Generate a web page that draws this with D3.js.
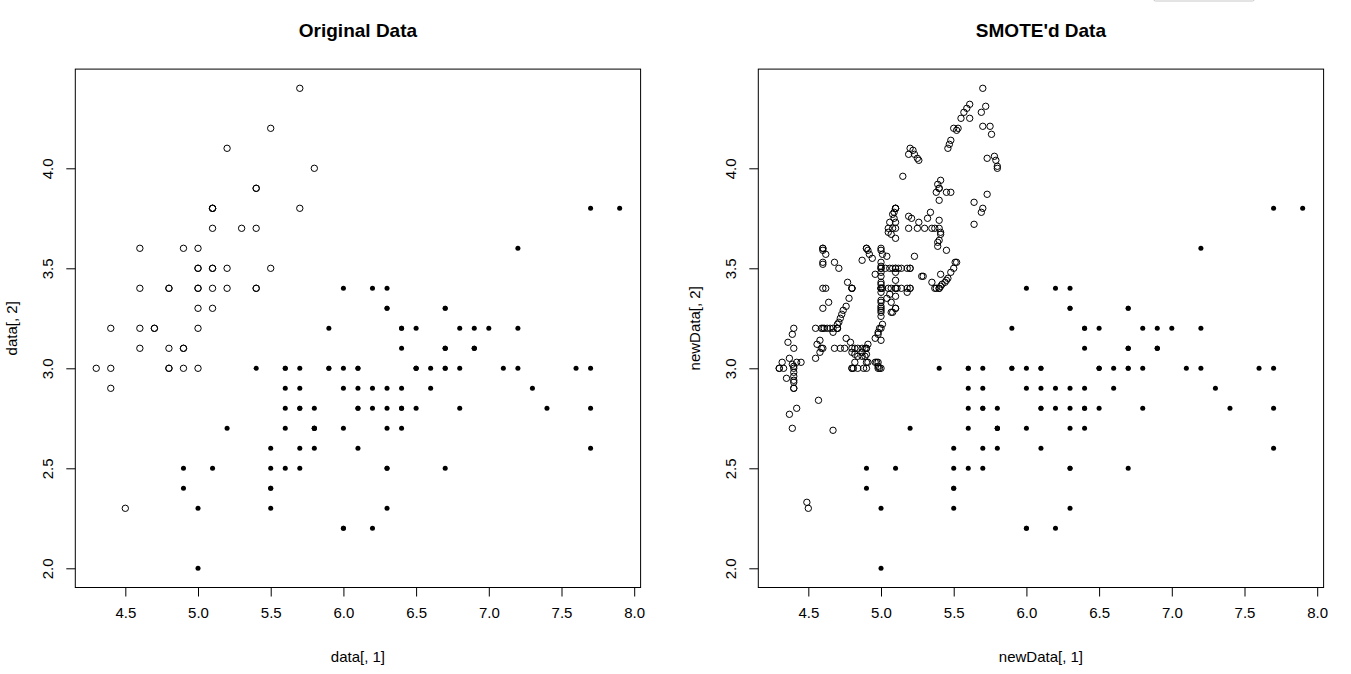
<!DOCTYPE html>
<html>
<head>
<meta charset="utf-8">
<script src="https://cdn.jsdelivr.net/npm/d3@7"></script>
<style>
  body { margin: 0; background: #ffffff; }
  text { font-family: Arial, "Liberation Sans", sans-serif; fill: #000000; }
</style>
</head>
<body>
<svg id="chart" width="1351" height="674"></svg>
<script>
// iris Sepal.Length / Sepal.Width, minority class (setosa)
const setosaX = [5.1,4.9,4.7,4.6,5.0,5.4,4.6,5.0,4.4,4.9,5.4,4.8,4.8,4.3,5.8,5.7,5.4,5.1,5.7,5.1,
  5.4,5.1,4.6,5.1,4.8,5.0,5.0,5.2,5.2,4.7,4.8,5.4,5.2,5.5,4.9,5.0,5.5,4.9,4.4,5.1,
  5.0,4.5,4.4,5.0,5.1,4.8,5.1,4.6,5.3,5.0];
const setosaY = [3.5,3.0,3.2,3.1,3.6,3.9,3.4,3.4,2.9,3.1,3.7,3.4,3.0,3.0,4.0,4.4,3.9,3.5,3.8,3.8,
  3.4,3.7,3.6,3.3,3.4,3.0,3.4,3.5,3.4,3.2,3.1,3.4,4.1,4.2,3.1,3.2,3.5,3.6,3.0,3.4,
  3.5,2.3,3.2,3.5,3.8,3.0,3.8,3.2,3.7,3.3];

// majority class (versicolor + virginica)
const otherX = [7.0,6.4,6.9,5.5,6.5,5.7,6.3,4.9,6.6,5.2,5.0,5.9,6.0,6.1,5.6,6.7,5.6,5.8,6.2,5.6,
  5.9,6.1,6.3,6.1,6.4,6.6,6.8,6.7,6.0,5.7,5.5,5.5,5.8,6.0,5.4,6.0,6.7,6.3,5.6,5.5,
  5.5,6.1,5.8,5.0,5.6,5.7,5.7,6.2,5.1,5.7,
  6.3,5.8,7.1,6.3,6.5,7.6,4.9,7.3,6.7,7.2,6.5,6.4,6.8,5.7,5.8,6.4,6.5,7.7,7.7,6.0,
  6.9,5.6,7.7,6.3,6.7,7.2,6.2,6.1,6.4,7.2,7.4,7.9,6.4,6.3,6.1,7.7,6.3,6.4,6.0,6.9,
  6.7,6.9,5.8,6.8,6.7,6.7,6.3,6.5,6.2,5.9];
const otherY = [3.2,3.2,3.1,2.3,2.8,2.8,3.3,2.4,2.9,2.7,2.0,3.0,2.2,2.9,2.9,3.1,3.0,2.7,2.2,2.5,
  3.2,2.8,2.5,2.8,2.9,3.0,2.8,3.0,2.9,2.6,2.4,2.4,2.7,2.7,3.0,3.4,3.1,2.3,3.0,2.5,
  2.6,3.0,2.6,2.3,2.7,3.0,2.9,2.9,2.5,2.8,
  3.3,2.7,3.0,2.9,3.0,3.0,2.5,2.9,2.5,3.6,3.2,2.7,3.0,2.5,2.8,3.2,3.0,3.8,2.6,2.2,
  3.2,2.8,2.8,2.7,3.3,3.2,2.8,3.0,2.8,3.0,2.8,3.8,2.8,2.8,2.6,3.0,3.4,3.1,3.0,3.1,
  3.1,3.1,2.7,3.2,3.3,3.0,2.5,3.0,3.4,3.0];

// synthetic minority points
const smotePoints = [
  [5.61,4.32],[5.59,4.30],[5.57,4.28],[5.55,4.25],[5.61,4.25],[5.72,4.31],[5.69,4.28],[5.70,4.21],
  [5.75,4.21],[5.76,4.17],[5.52,4.19],[5.53,4.20],[5.48,4.14],[5.47,4.12],[5.46,4.10],[5.22,4.09],
  [5.19,4.07],[5.23,4.07],[5.25,4.05],[5.26,4.04],[5.73,4.05],[5.78,4.06],[5.79,4.04],[5.80,4.01],
  [5.15,3.96],[5.41,3.94],[5.39,3.92],[5.38,3.88],[5.45,3.88],[5.48,3.88],[5.40,3.84],[5.73,3.87],
  [5.64,3.83],[5.69,3.78],[5.19,3.76],[5.21,3.75],[5.26,3.73],[5.32,3.75],[5.34,3.78],[5.40,3.74],
  [5.64,3.72],[5.09,3.78],[5.08,3.77],[5.09,3.75],[5.06,3.73],[5.10,3.73],
  [5.05,3.70],[5.08,3.70],[5.19,3.70],[5.25,3.70],[5.35,3.70],[5.37,3.70],
  [5.05,3.68],[5.07,3.67],[5.10,3.65],[5.41,3.68],[5.41,3.67],[5.40,3.64],[5.39,3.63],[5.39,3.61],
  [5.45,3.59],[5.00,3.59],[5.01,3.57],[5.04,3.56],[5.23,3.56],
  [5.00,3.53],[5.00,3.51],[5.00,3.48],[5.00,3.46],[5.00,3.43],[5.00,3.42],[5.00,3.40],[5.00,3.38],
  [5.03,3.50],[5.06,3.50],[5.08,3.50],[5.12,3.50],[5.14,3.50],[5.18,3.50],[5.20,3.50],
  [5.10,3.48],[5.10,3.44],
  [5.01,3.40],[5.05,3.40],[5.07,3.40],[5.10,3.40],[5.11,3.40],[5.14,3.40],[5.18,3.40],[5.20,3.40],
  [5.18,3.38],[5.06,3.37],[5.04,3.35],[5.10,3.36],[5.07,3.33],
  [5.00,3.34],[5.00,3.33],[5.00,3.31],[5.00,3.29],[5.00,3.28],[5.00,3.26],
  [5.10,3.30],[5.08,3.28],[5.07,3.28],
  [5.29,3.46],[5.28,3.46],[5.41,3.47],[5.46,3.45],[5.45,3.44],[5.44,3.43],[5.42,3.42],[5.41,3.41],
  [5.38,3.40],[5.37,3.40],[5.51,3.53],[5.52,3.53],[5.48,3.48],[5.35,3.43],
  [5.01,3.22],[4.99,3.20],[4.98,3.18],[4.98,3.17],[5.00,3.14],
  [4.97,3.03],[4.98,3.01],[4.99,3.00],
  [4.60,3.60],[4.60,3.59],[4.62,3.57],[4.60,3.53],[4.60,3.52],[4.68,3.53],[4.71,3.50],
  [4.90,3.60],[4.91,3.59],[4.92,3.57],[4.94,3.55],[4.87,3.54],[4.96,3.47],
  [4.62,3.40],[4.77,3.43],[4.80,3.40],[4.64,3.33],[4.60,3.30],
  [4.78,3.35],[4.76,3.31],[4.74,3.29],[4.73,3.27],[4.72,3.25],[4.71,3.23],[4.70,3.22],
  [4.55,3.20],[4.59,3.20],[4.61,3.20],[4.63,3.20],[4.65,3.20],[4.67,3.20],[4.70,3.20],[4.67,3.18],
  [4.39,3.17],[4.36,3.13],[4.40,3.10],
  [4.58,3.14],[4.56,3.12],[4.59,3.10],[4.58,3.08],[4.55,3.05],
  [4.68,3.10],[4.72,3.10],[4.75,3.10],
  [4.76,3.15],[4.79,3.13],[4.82,3.10],[4.84,3.10],[4.87,3.10],[4.89,3.10],[4.91,3.12],[4.96,3.15],
  [4.80,3.08],[4.82,3.07],[4.84,3.06],[4.87,3.08],[4.89,3.06],[4.90,3.07],[4.90,3.03],[4.82,3.03],
  [4.81,3.00],[4.84,3.00],[4.88,3.00],[4.91,3.03],[4.96,3.03],[4.87,3.06],[4.98,3.03],[4.98,3.00],
  [4.32,3.03],[4.30,3.00],[4.33,3.00],[4.40,3.01],[4.40,2.98],[4.37,3.05],[4.42,3.03],[4.45,3.03],
  [4.39,3.02],
  [4.35,2.95],[4.40,2.96],[4.40,2.94],[4.40,2.93],[4.40,2.90],
  [4.57,2.84],[4.42,2.80],[4.37,2.77],[4.39,2.70],[4.67,2.69],[4.49,2.33]
];

const xTicks = [4.5, 5.0, 5.5, 6.0, 6.5, 7.0, 7.5, 8.0];
const yTicks = [2.0, 2.5, 3.0, 3.5, 4.0];

const panels = [
  { title: "Original Data", xLabel: "data[, 1]", yLabel: "data[, 2]", left: 75.3, synthetic: false },
  { title: "SMOTE'd Data", xLabel: "newData[, 1]", yLabel: "newData[, 2]", left: 758.3, synthetic: true },
];

const PLOT_WIDTH = 565.3;
const PLOT_TOP = 69.1;
const PLOT_BOTTOM = 587.5;
const TICK_LEN = 9;
const OPEN_R = 3.2;
const DOT_R = 2.5;
const FONT = "Arial, 'Liberation Sans', sans-serif";

// R-style axis range: data extent padded 4% each side
function paddedDomain(values) {
  const [lo, hi] = d3.extent(values);
  const pad = (hi - lo) * 0.04;
  return [lo - pad, hi + pad];
}

const xDomain = paddedDomain(setosaX.concat(otherX));
const yDomain = paddedDomain(setosaY.concat(otherY));
const fmt = d3.format(".1f");

const svg = d3.select("#chart");

svg.append("rect")
  .attr("width", 1351).attr("height", 674)
  .attr("fill", "#ffffff");

function drawPanel(panel) {
  const x = d3.scaleLinear().domain(xDomain).range([panel.left, panel.left + PLOT_WIDTH]);
  const y = d3.scaleLinear().domain(yDomain).range([PLOT_BOTTOM, PLOT_TOP]);
  const g = svg.append("g");

  const xAxis = g.append("g")
    .attr("transform", `translate(0,${PLOT_BOTTOM})`)
    .call(d3.axisBottom(x).tickValues(xTicks).tickFormat(fmt).tickSize(TICK_LEN).tickSizeOuter(0).tickPadding(11));
  const yAxis = g.append("g")
    .attr("transform", `translate(${panel.left},0)`)
    .call(d3.axisLeft(y).tickValues(yTicks).tickFormat(fmt).tickSize(TICK_LEN).tickSizeOuter(0));

  [xAxis, yAxis].forEach((axis) => {
    axis.select(".domain").remove();
    axis.selectAll(".tick line").attr("stroke", "#000").attr("stroke-width", 1);
    axis.selectAll(".tick text")
      .attr("font-size", 15)
      .attr("fill", "#000")
      .style("font-family", FONT);
  });

  // y tick labels run parallel to the axis, as in base R
  yAxis.selectAll(".tick text")
    .attr("x", 0)
    .attr("y", 0)
    .attr("dy", null)
    .attr("text-anchor", "middle")
    .attr("transform", "translate(-22,0) rotate(-90)");

  g.append("rect")
    .attr("x", panel.left).attr("y", PLOT_TOP)
    .attr("width", PLOT_WIDTH).attr("height", PLOT_BOTTOM - PLOT_TOP)
    .attr("fill", "none").attr("stroke", "#000").attr("stroke-width", 1);

  const midX = panel.left + PLOT_WIDTH / 2;

  g.append("text")
    .attr("x", midX).attr("y", 37)
    .attr("text-anchor", "middle")
    .attr("font-size", 19).attr("font-weight", "bold")
    .text(panel.title);

  g.append("text")
    .attr("x", midX).attr("y", 662)
    .attr("text-anchor", "middle")
    .attr("font-size", 15)
    .text(panel.xLabel);

  g.append("text")
    .attr("transform", `translate(${panel.left - 58},${(PLOT_TOP + PLOT_BOTTOM) / 2}) rotate(-90)`)
    .attr("text-anchor", "middle")
    .attr("font-size", 15)
    .text(panel.yLabel);

  const marks = g.append("g");

  marks.selectAll("circle.open")
    .data(d3.zip(setosaX, setosaY))
    .join("circle")
    .attr("class", "open")
    .attr("cx", (d) => x(d[0])).attr("cy", (d) => y(d[1]))
    .attr("r", OPEN_R)
    .attr("fill", "none").attr("stroke", "#000").attr("stroke-width", 1);

  if (panel.synthetic) {
    marks.selectAll("circle.synth")
      .data(smotePoints)
      .join("circle")
      .attr("class", "synth")
      .attr("cx", (d) => x(d[0])).attr("cy", (d) => y(d[1]))
      .attr("r", OPEN_R)
      .attr("fill", "none").attr("stroke", "#000").attr("stroke-width", 1);
  }

  marks.selectAll("circle.dot")
    .data(d3.zip(otherX, otherY))
    .join("circle")
    .attr("class", "dot")
    .attr("cx", (d) => x(d[0])).attr("cy", (d) => y(d[1]))
    .attr("r", DOT_R)
    .attr("fill", "#000");
}

panels.forEach(drawPanel);

// faint tab edge peeking in at the top right of the screenshot
svg.append("rect")
  .attr("x", 1153.5).attr("y", -12)
  .attr("width", 101).attr("height", 13)
  .attr("rx", 2)
  .attr("fill", "#ffffff").attr("stroke", "#c8c8c8").attr("stroke-width", 1);
</script>
</body>
</html>
